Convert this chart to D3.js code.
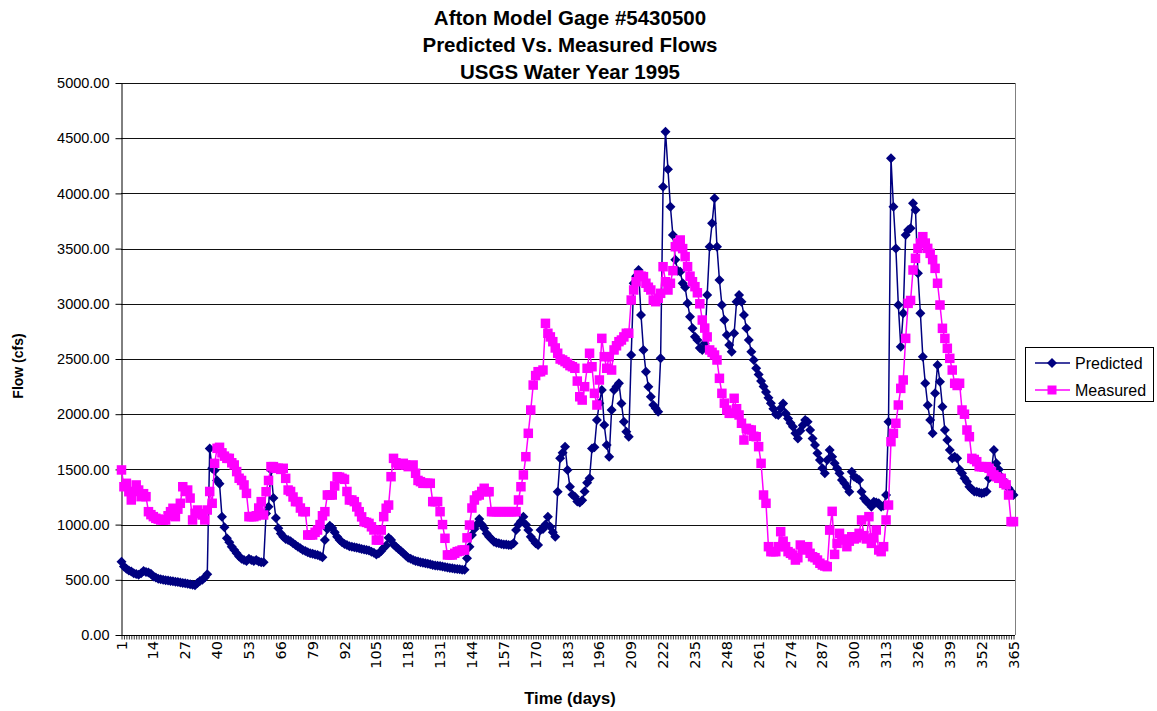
<!DOCTYPE html>
<html><head><meta charset="utf-8">
<script src="https://cdn.jsdelivr.net/npm/d3@7/dist/d3.min.js"></script>
<style>html,body{margin:0;padding:0;background:#fff}svg{display:block}</style>
</head><body>
<svg id="chart" width="1157" height="711"></svg>
<script>
const titleLines = ["Afton Model Gage #5430500", "Predicted Vs. Measured Flows", "USGS Water Year 1995"];
const seriesNames = ["Predicted", "Measured"];
const days = d3.range(1, 366);
const yTicks = [0, 500, 1000, 1500, 2000, 2500, 3000, 3500, 4000, 4500, 5000];
const xLabelDays = d3.range(1, 366, 13);

const predicted = [
664,620,600,585,575,560,552,545,560,580,
570,565,555,530,520,510,505,500,497,493,
490,487,483,480,476,472,468,465,460,455,
450,470,490,500,520,550,1690,1510,1490,1400,
1370,1072,975,876,840,800,770,740,710,690,
680,670,690,680,670,680,665,660,660,1100,
1162,1495,1240,1060,966,920,890,870,860,850,
830,815,800,785,770,760,750,740,735,730,
725,715,705,860,960,990,970,930,890,860,
840,825,815,805,800,795,790,785,780,775,
770,765,755,745,730,740,760,790,810,880,
860,820,800,780,760,740,720,700,690,680,
670,665,660,655,650,645,640,635,630,628,
625,620,615,612,608,605,600,598,595,592,
590,695,800,906,960,1000,1050,1000,966,920,
890,870,845,835,830,825,820,820,815,815,
830,951,1000,1030,1072,1000,950,890,860,830,
815,951,960,1000,1072,981,930,890,1298,1600,
1650,1706,1495,1343,1270,1253,1210,1200,1220,1300,
1380,1419,1690,1700,1947,2100,2219,1902,1721,1615,
2038,2219,2250,2280,2098,1932,1841,1796,2536,3186,
3250,3306,2899,2582,2385,2249,2158,2083,2053,2023,
2506,4061,4559,4218,3879,3623,3400,3300,3291,3186,
3150,3004,2883,2778,2702,2672,2600,2582,2642,3080,
3517,3729,3955,3517,3216,2989,2853,2717,2627,2566,
2733,3019,3080,3019,2899,2778,2672,2566,2491,2416,
2360,2300,2250,2200,2150,2100,2050,2000,1993,2053,
2098,2008,1960,1920,1887,1827,1781,1850,1900,1947,
1932,1857,1780,1721,1646,1585,1510,1465,1585,1676,
1615,1555,1510,1465,1404,1374,1340,1298,1479,1434,
1420,1404,1298,1238,1210,1193,1162,1208,1200,1193,
1162,1170,1268,1932,4318,3879,3502,2989,2611,2914,
3623,3668,3684,3910,3850,3276,2914,2520,2280,2080,
1947,1827,2189,2446,2294,2067,1857,1766,1676,1600,
1615,1600,1500,1465,1420,1389,1343,1320,1300,1298,
1290,1283,1289,1300,1419,1495,1676,1555,1500,1434,
1400,1359,1330,1300,1268
];

const measured = [
1495,1343,1374,1298,1223,1300,1359,1313,1253,1280,
1253,1117,1090,1072,1057,1050,1042,1042,1042,1080,
1117,1148,1072,1140,1193,1343,1300,1313,1240,1042,
1102,1132,1100,1087,1042,1132,1300,1193,1555,1691,
1700,1650,1620,1600,1600,1560,1540,1480,1420,1400,
1359,1283,1072,1072,1072,1080,1150,1208,1087,1298,
1400,1525,1525,1510,1510,1500,1510,1419,1313,1300,
1250,1208,1208,1150,1117,1117,906,906,906,930,
951,1000,1080,1117,1268,1268,1268,1350,1434,1430,
1419,1410,1300,1223,1223,1208,1160,1117,1070,1026,
1020,1011,980,951,860,860,950,1072,1148,1177,
1434,1600,1560,1540,1550,1555,1540,1525,1530,1540,
1465,1400,1389,1374,1374,1374,1374,1208,1208,1208,
1117,1000,876,725,725,725,740,755,760,770,
770,880,996,1150,1223,1260,1268,1300,1329,1298,
1298,1117,1117,1117,1117,1117,1117,1117,1117,1117,
1117,1117,1223,1343,1450,1615,1827,2038,2264,2350,
2385,2385,2400,2823,2733,2700,2657,2600,2552,2500,
2491,2476,2460,2440,2430,2416,2300,2158,2128,2249,
2416,2552,2430,2189,2083,2310,2687,2521,2416,2521,
2400,2582,2620,2657,2672,2700,2733,2733,3034,3125,
3200,3261,3250,3246,3186,3150,3125,3034,3019,3050,
3095,3336,3200,3125,3186,3300,3517,3550,3578,3500,
3427,3336,3250,3200,3155,3100,3000,2853,2780,2700,
2582,2560,2536,2491,2325,2189,2100,2038,2008,2008,
2144,2050,1993,1918,1766,1872,1860,1857,1800,1796,
1706,1555,1268,1193,800,755,755,755,800,936,
850,800,755,740,725,679,700,815,770,780,
800,740,709,700,679,650,634,625,619,950,
1120,730,830,921,860,870,800,850,890,870,
880,921,1042,900,870,1072,830,880,951,770,
755,800,1042,1177,1751,1827,1918,2083,2234,2310,
2687,3004,3030,3306,3412,3502,3550,3608,3550,3502,
3457,3400,3321,3186,2989,2778,2687,2597,2506,2400,
2280,2260,2280,2038,2000,1857,1796,1600,1590,1570,
1525,1525,1520,1525,1510,1480,1450,1434,1420,1419,
1374,1360,1268,1027,1027
];

const FONT = "'Liberation Sans', Arial, Helvetica, sans-serif";
const svg = d3.select("#chart");
const L = 121, R = 1015, T = 83, B = 635;
const x = d3.scaleLinear().domain([1, 365]).range([L + 0.5, R - 1.5]);
const y = d3.scaleLinear().domain([0, 5000]).range([B, T]);

// title
svg.append("g").selectAll("text").data(titleLines).join("text")
  .attr("x", 570).attr("y", (d, i) => 25 + i * 27)
  .attr("text-anchor", "middle").attr("font-family", FONT)
  .attr("font-weight", "bold").attr("font-size", 20.5).text(d => d);

// gridlines
svg.append("g").selectAll("line").data(yTicks.filter(v => v > 0)).join("line")
  .attr("x1", L).attr("x2", R)
  .attr("y1", d => Math.round(y(d)) + 0.5).attr("y2", d => Math.round(y(d)) + 0.5)
  .attr("stroke", "#111").attr("stroke-width", 1);
svg.append("line").attr("x1", R + 0.5).attr("x2", R + 0.5).attr("y1", T).attr("y2", B)
  .attr("stroke", "#808080");

// y axis
const yAx = svg.append("g").attr("transform", `translate(${L + 0.5},0)`)
  .call(d3.axisLeft(y).tickValues(yTicks).tickFormat(d3.format(".2f")).tickSize(6).tickSizeOuter(0).tickPadding(6));
yAx.selectAll("text").attr("font-family", FONT).attr("font-size", 14.5).attr("fill", "#000");
yAx.selectAll("line,path").attr("stroke", "#000");

// x axis
const xAx = svg.append("g").attr("transform", `translate(0,${B + 0.5})`)
  .call(d3.axisBottom(x).tickValues(days).tickFormat("").tickSize(4).tickSizeOuter(0));
xAx.select(".domain").attr("stroke", "#000").attr("d", `M${L},0H${R}`);
xAx.selectAll(".tick line").attr("stroke", "#000").attr("stroke-width", 0.8);
svg.append("g").selectAll("text").data(xLabelDays).join("text")
  .attr("transform", d => `translate(${x(d)},641) rotate(-90)`)
  .attr("text-anchor", "end").attr("dy", "0.35em")
  .attr("font-family", "'DejaVu Sans', Verdana, sans-serif").attr("font-size", 14.5)
  .text(d => d);

// axis titles
svg.append("text").attr("x", 570).attr("y", 704).attr("text-anchor", "middle")
  .attr("font-family", FONT).attr("font-weight", "bold").attr("font-size", 16.5).text("Time (days)");
svg.append("text").attr("transform", "translate(23,366) rotate(-90)").attr("text-anchor", "middle")
  .attr("font-family", FONT).attr("font-weight", "bold").attr("font-size", 14).text("Flow (cfs)");

// series
const colors = ["#000080", "#FF00FF"];
const line = d3.line().x((d, i) => x(days[i])).y(d => y(d));
const diamond = "M0,-5L5,0L0,5L-5,0Z";

svg.append("path").datum(predicted).attr("d", line).attr("fill", "none")
  .attr("stroke", colors[0]).attr("stroke-width", 1.5);
svg.append("g").selectAll("path").data(predicted).join("path")
  .attr("transform", (d, i) => `translate(${x(days[i])},${y(d)})`)
  .attr("d", diamond).attr("fill", colors[0]);

svg.append("path").datum(measured).attr("d", line).attr("fill", "none")
  .attr("stroke", colors[1]).attr("stroke-width", 1.5);
svg.append("g").selectAll("rect").data(measured).join("rect")
  .attr("x", (d, i) => x(days[i]) - 4.75).attr("y", d => y(d) - 4.75)
  .attr("width", 9.5).attr("height", 9.5).attr("fill", colors[1]);

// legend
const lg = svg.append("g");
lg.append("rect").attr("x", 1025.5).attr("y", 347.5).attr("width", 128).attr("height", 54)
  .attr("fill", "#fff").attr("stroke", "#000");
seriesNames.forEach((name, i) => {
  const cy = 363 + i * 27;
  lg.append("line").attr("x1", 1035).attr("x2", 1070).attr("y1", cy).attr("y2", cy)
    .attr("stroke", colors[i]).attr("stroke-width", 1.5);
  if (i === 0) lg.append("path").attr("transform", `translate(1052,${cy})`).attr("d", diamond).attr("fill", colors[0]);
  else lg.append("rect").attr("x", 1047.5).attr("y", cy - 4.5).attr("width", 9).attr("height", 9).attr("fill", colors[1]);
  lg.append("text").attr("x", 1075).attr("y", cy).attr("dy", "0.35em")
    .attr("font-family", FONT).attr("font-size", 16).text(name);
});
</script>
</body></html>
